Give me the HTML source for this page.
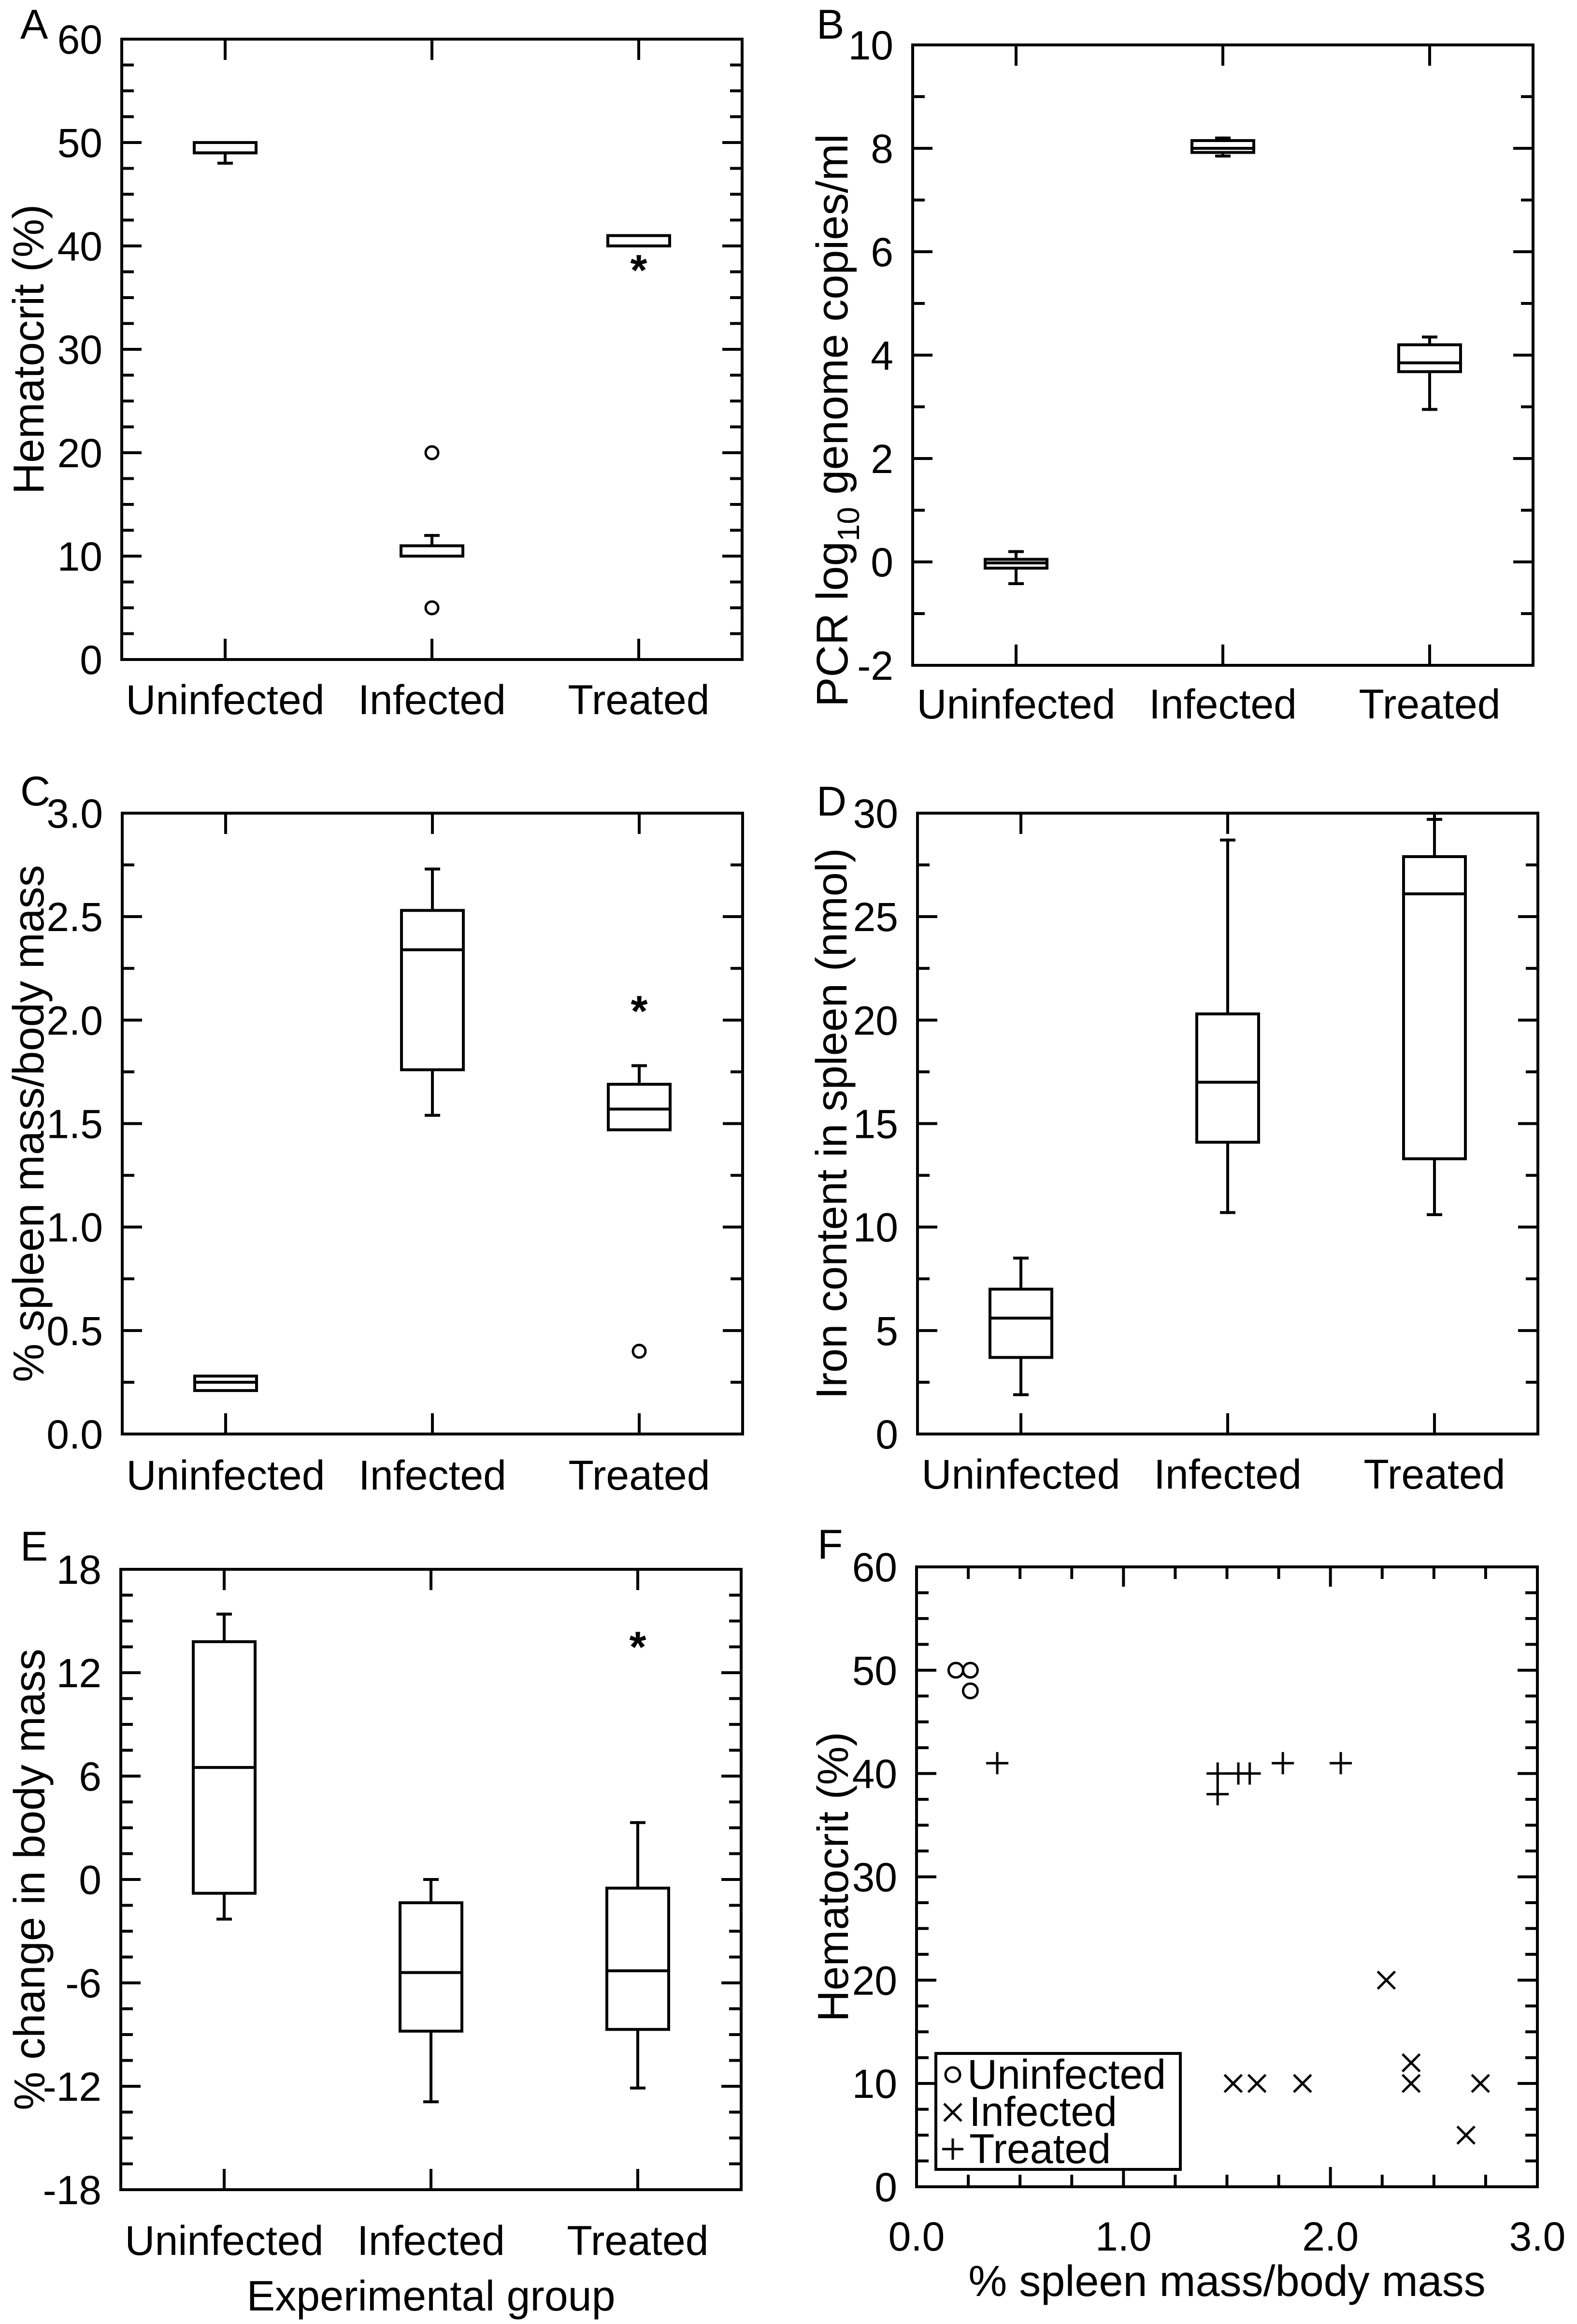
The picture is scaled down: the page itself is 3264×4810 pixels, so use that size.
<!DOCTYPE html>
<html><head><meta charset="utf-8"><title>Six-panel figure</title>
<style>
html,body{margin:0;padding:0;background:#fff;}
svg{display:block;font-family:"Liberation Sans",Arial,Helvetica,sans-serif;}
text{font-family:"Liberation Sans",Arial,Helvetica,sans-serif;fill:#000;}
</style></head>
<body>
<svg id="fig" xmlns="http://www.w3.org/2000/svg" width="3264" height="4810" viewBox="0 0 3264 4810" font-family="Liberation Sans, Arial, Helvetica, sans-serif">
<rect x="0" y="0" width="3264" height="4810" fill="#fff"/>
</svg>
<script>
// ---- shared data ----
const categories = ["Uninfected", "Infected", "Treated"];

// Panel A: Hematocrit (%)
const aTicks = [0, 10, 20, 30, 40, 50, 60];
const aQ1 = [49, 10, 40];
const aMed = [49, 10, 40];
const aQ3 = [50, 11, 41];
const aWlo = [48, null, null];
const aWhi = [null, 12, null];
const aCircleOut = [[1, 20], [1, 5]];
const aStarOut = [[2, 38]];

// Panel B: PCR log10 genome copies/ml
const bTicks = [-2, 0, 2, 4, 6, 8, 10];
const bQ1 = [-0.12, 7.92, 3.68];
const bMed = [-0.02, 8.0, 3.85];
const bQ3 = [0.05, 8.15, 4.2];
const bWlo = [-0.42, 7.85, 2.95];
const bWhi = [0.2, 8.2, 4.35];
const bCircleOut = [];
const bStarOut = [];

// Panel C: % spleen mass/body mass
const cTicks = [0.0, 0.5, 1.0, 1.5, 2.0, 2.5, 3.0];
const cQ1 = [0.21, 1.76, 1.47];
const cMed = [0.25, 2.34, 1.57];
const cQ3 = [0.28, 2.53, 1.69];
const cWlo = [null, 1.54, null];
const cWhi = [null, 2.73, 1.78];
const cCircleOut = [[2, 0.4]];
const cStarOut = [[2, 2.06]];

// Panel D: Iron content in spleen (nmol)
const dTicks = [0, 5, 10, 15, 20, 25, 30];
const dQ1 = [3.7, 14.1, 13.3];
const dMed = [5.6, 17.0, 26.1];
const dQ3 = [7.0, 20.3, 27.9];
const dWlo = [1.9, 10.7, 10.6];
const dWhi = [8.5, 28.7, 29.7];
const dCircleOut = [];
const dStarOut = [];

// Panel E: % change in body mass
const eTicks = [-18, -12, -6, 0, 6, 12, 18];
const eQ1 = [-0.8, -8.8, -8.7];
const eMed = [6.5, -5.4, -5.3];
const eQ3 = [13.8, -1.35, -0.5];
const eWlo = [-2.3, -12.9, -12.1];
const eWhi = [15.4, 0.0, 3.3];
const eCircleOut = [];
const eStarOut = [[2, 13.7]];

// Panel F: scatter
const fYTicks = [0, 10, 20, 30, 40, 50, 60];
const fXTicks = [0.0, 1.0, 2.0, 3.0];
const fUninfX = [0.19, 0.26, 0.26];
const fUninfY = [50, 50, 48];
const fInfX = [1.53, 1.645, 1.865, 2.27, 2.39, 2.39, 2.655, 2.725];
const fInfY = [10, 10, 10, 20, 12, 10, 5, 10];
const fTreatX = [0.39, 1.455, 1.455, 1.555, 1.61, 1.77, 2.05];
const fTreatY = [41, 40, 38, 40, 40, 41, 41];

// ---- drawing ----
const NS = "http://www.w3.org/2000/svg";
const FONT = "Liberation Sans, Arial, Helvetica, sans-serif";
const svg = document.getElementById("fig");
const SW = 6;
const TICKFS = 84;
const TITLEFS = 90;

function mk(tag, attrs, parent) {
  const el = document.createElementNS(NS, tag);
  for (const k in attrs) el.setAttribute(k, attrs[k]);
  (parent || svg).appendChild(el);
  return el;
}
function line(x1, y1, x2, y2, g, w) {
  return mk("line", {x1: x1, y1: y1, x2: x2, y2: y2, stroke: "#000", "stroke-width": w || SW, "stroke-linecap": "square"}, g);
}
function txt(s, x, y, size, anchor, g, extra) {
  const t = mk("text", Object.assign({x: x, y: y, "font-size": size, "font-family": FONT, "text-anchor": anchor || "start"}, extra || {}), g);
  t.textContent = s;
  return t;
}

function fmt(v, dec) { return dec ? v.toFixed(dec) : String(v); }

function boxPanel(id, letter, fr, ticks, minorStep, dec, q1, med, q3, wlo, whi, circ, star, yTitle, yTitleX, catBase, titleHTML, titleCY, titleFS) {
  const g = mk("g", {});
  
  
  const ymin = ticks[0], ymax = ticks[ticks.length - 1];
  const Y = v => fr.y1 - (v - ymin) / (ymax - ymin) * (fr.y1 - fr.y0);
  const X = i => fr.x0 + (fr.x1 - fr.x0) * (2 * i + 1) / 6;
  const r = mk("rect", {x: fr.x0, y: fr.y0, width: fr.x1 - fr.x0, height: fr.y1 - fr.y0, fill: "none", stroke: "#000", "stroke-width": SW}, g);
  
  
  for (let v = ymin; v <= ymax + 1e-9; v += minorStep) {
    const major = ticks.some(t => Math.abs(t - v) < 1e-6);
    const L = major ? 38 : 22;
    if (Math.abs(v - ymin) < 1e-6 || Math.abs(v - ymax) < 1e-6) continue;
    line(fr.x0, Y(v), fr.x0 + L, Y(v), g);
    line(fr.x1, Y(v), fr.x1 - L, Y(v), g);
  }
  ticks.forEach(t => {
    const tl = txt(fmt(t, dec), fr.x0 - 40, Y(t) + 30, TICKFS, "end", g);
    
    
  });
  categories.forEach((c, i) => {
    line(X(i), fr.y0, X(i), fr.y0 + 40, g);
    line(X(i), fr.y1, X(i), fr.y1 - 40, g);
    const cl = txt(c, X(i), fr.y1 + catBase, 86, "middle", g);
    
    
  });
  const bw = 64, cap = 13;
  categories.forEach((c, i) => {
    const x = X(i);
    if (whi[i] !== null) { line(x, Y(q3[i]), x, Y(whi[i]), g); line(x - cap, Y(whi[i]), x + cap, Y(whi[i]), g); }
    if (wlo[i] !== null) { line(x, Y(q1[i]), x, Y(wlo[i]), g); line(x - cap, Y(wlo[i]), x + cap, Y(wlo[i]), g); }
    const b = mk("rect", {x: x - bw, y: Y(q3[i]), width: 2 * bw, height: Y(q1[i]) - Y(q3[i]), fill: "#fff", stroke: "#000", "stroke-width": SW}, g);
    
    
    const m = line(x - bw, Y(med[i]), x + bw, Y(med[i]), g);
    
    
  });
  circ.forEach(o => {
    const ci = mk("circle", {cx: X(o[0]), cy: Y(o[1]), r: 13, fill: "none", stroke: "#000", "stroke-width": 5}, g);
    
    
  });
  star.forEach(o => {
    const s = txt("*", X(o[0]), Y(o[1]) + 38, 90, "middle", g, {"font-weight": "bold"});
    
    
  });
  const cy = titleCY || (fr.y0 + fr.y1) / 2;
  const tt = mk("text", {x: 0, y: 0, "font-size": titleFS || TITLEFS, "font-family": FONT, "text-anchor": "middle", transform: "translate(" + yTitleX + "," + cy + ") rotate(-90)"}, g);
  if (titleHTML) {
    tt.innerHTML = titleHTML;
  } else {
    tt.textContent = yTitle;
  }
  
  
  const pl = txt(letter, letter === "A" || letter === "C" || letter === "E" ? 42 : 1690, 0, 86, "start", g);
  
  
  return {g: g, pl: pl};
}

let p;
p = boxPanel("a", "A", {x0: 252, x1: 1536, y0: 81, y1: 1365}, aTicks, 2.5, 0, aQ1, aMed, aQ3, aWlo, aWhi, aCircleOut, aStarOut, "Hematocrit (%)", 90, 113);
p.pl.setAttribute("y", 80);
p = boxPanel("b", "B", {x0: 1889, x1: 3173, y0: 93, y1: 1377}, bTicks, 1, 0, bQ1, bMed, bQ3, bWlo, bWhi, bCircleOut, bStarOut, "", 1754, 110,
  'PCR log<tspan font-size="64" dy="24">10</tspan><tspan dy="-24"> genome copies/ml</tspan>', 870, 92);
p.pl.setAttribute("y", 80);
p = boxPanel("c", "C", {x0: 253, x1: 1537, y0: 1683, y1: 2968}, cTicks, 0.25, 1, cQ1, cMed, cQ3, cWlo, cWhi, cCircleOut, cStarOut, "% spleen mass/body mass", 90, 115);
p.pl.setAttribute("y", 1667);
p = boxPanel("d", "D", {x0: 1899, x1: 3183, y0: 1683, y1: 2968}, dTicks, 2.5, 0, dQ1, dMed, dQ3, dWlo, dWhi, dCircleOut, dStarOut, "Iron content in spleen (nmol)", 1752, 113);
p.pl.setAttribute("y", 1688);
p = boxPanel("e", "E", {x0: 250, x1: 1534, y0: 3248, y1: 4532}, eTicks, 1.5, 0, eQ1, eMed, eQ3, eWlo, eWhi, eCircleOut, eStarOut, "% change in body mass", 92, 135);
p.pl.setAttribute("y", 3230);
const xt = txt("Experimental group", 892, 4782, 88, "middle");



// ---- Panel F scatter ----
(function () {
  const fr = {x0: 1897, x1: 3182, y0: 3243, y1: 4526};
  const g = mk("g", {});
  
  
  const X = v => fr.x0 + (v - 0) / 3 * (fr.x1 - fr.x0);
  const Y = v => fr.y1 - v / 60 * (fr.y1 - fr.y0);
  const r = mk("rect", {x: fr.x0, y: fr.y0, width: fr.x1 - fr.x0, height: fr.y1 - fr.y0, fill: "none", stroke: "#000", "stroke-width": SW}, g);
  
  
  for (let v = 2.5; v < 60; v += 2.5) {
    const major = Math.abs(v % 10) < 1e-6;
    const L = major ? 38 : 22;
    line(fr.x0, Y(v), fr.x0 + L, Y(v), g);
    line(fr.x1, Y(v), fr.x1 - L, Y(v), g);
  }
  for (let v = 0.25; v < 3; v += 0.25) {
    const major = Math.abs(v - Math.round(v)) < 1e-6;
    const L = major ? 38 : 22;
    line(X(v), fr.y1, X(v), fr.y1 - L, g);
    line(X(v), fr.y0, X(v), fr.y0 + L, g);
  }
  fYTicks.forEach(t => {
    const tl = txt(String(t), fr.x0 - 40, Y(t) + 30, TICKFS, "end", g);
    
    
  });
  fXTicks.forEach(t => {
    const tl = txt(t.toFixed(1), X(t), 4658, TICKFS, "middle", g);
    
    
  });
  const xt2 = txt("% spleen mass/body mass", (fr.x0 + fr.x1) / 2, 4752, 90, "middle", g);
  
  
  const yt = mk("text", {x: 0, y: 0, "font-size": TITLEFS, "font-family": FONT, "text-anchor": "middle", transform: "translate(1755," + ((fr.y0 + fr.y1) / 2) + ") rotate(-90)"}, g);
  yt.textContent = "Hematocrit (%)";
  
  
  const pl = txt("F", 1692, 3226, 86, "start", g);
  
  

  function circ(cx, cy) {
    const c = mk("circle", {cx: cx, cy: cy, r: 15, fill: "none", stroke: "#000", "stroke-width": 5}, g);
    
    
  }
  function cross(cx, cy) {
    const s = 18;
    const pth = mk("path", {d: "M" + (cx - s) + " " + (cy - s) + "L" + (cx + s) + " " + (cy + s) + "M" + (cx - s) + " " + (cy + s) + "L" + (cx + s) + " " + (cy - s), stroke: "#000", "stroke-width": 5, fill: "none"}, g);
    
    
  }
  function plus(cx, cy) {
    const s = 23;
    const pth = mk("path", {d: "M" + (cx - s) + " " + cy + "L" + (cx + s) + " " + cy + "M" + cx + " " + (cy - s) + "L" + cx + " " + (cy + s), stroke: "#000", "stroke-width": 5, fill: "none"}, g);
    
    
  }
  fUninfX.forEach((v, i) => circ(X(v), Y(fUninfY[i])));
  fInfX.forEach((v, i) => cross(X(v), Y(fInfY[i])));
  fTreatX.forEach((v, i) => plus(X(v), Y(fTreatY[i])));

  const lg = mk("g", {}, g);
  
  
  const lb = mk("rect", {x: 1937, y: 4250, width: 506, height: 240, fill: "#fff", stroke: "#000", "stroke-width": SW}, lg);
  
  
  const c0 = mk("circle", {cx: 1972, cy: 4294, r: 15, fill: "none", stroke: "#000", "stroke-width": 5}, lg);
  
  
  const x0 = mk("path", {d: "M1954 4354L1990 4390M1954 4390L1990 4354", stroke: "#000", "stroke-width": 5, fill: "none"}, lg);
  
  
  const p0 = mk("path", {d: "M1950 4448L1994 4448M1972 4426L1972 4470", stroke: "#000", "stroke-width": 5, fill: "none"}, lg);
  
  
  const l1 = txt("Uninfected", 2002, 4323, 86, "start", lg);
  
  
  const l2 = txt("Infected", 2006, 4400, 86, "start", lg);
  
  
  const l3 = txt("Treated", 2006, 4477, 86, "start", lg);
  
  
})();
</script>
</body></html>
